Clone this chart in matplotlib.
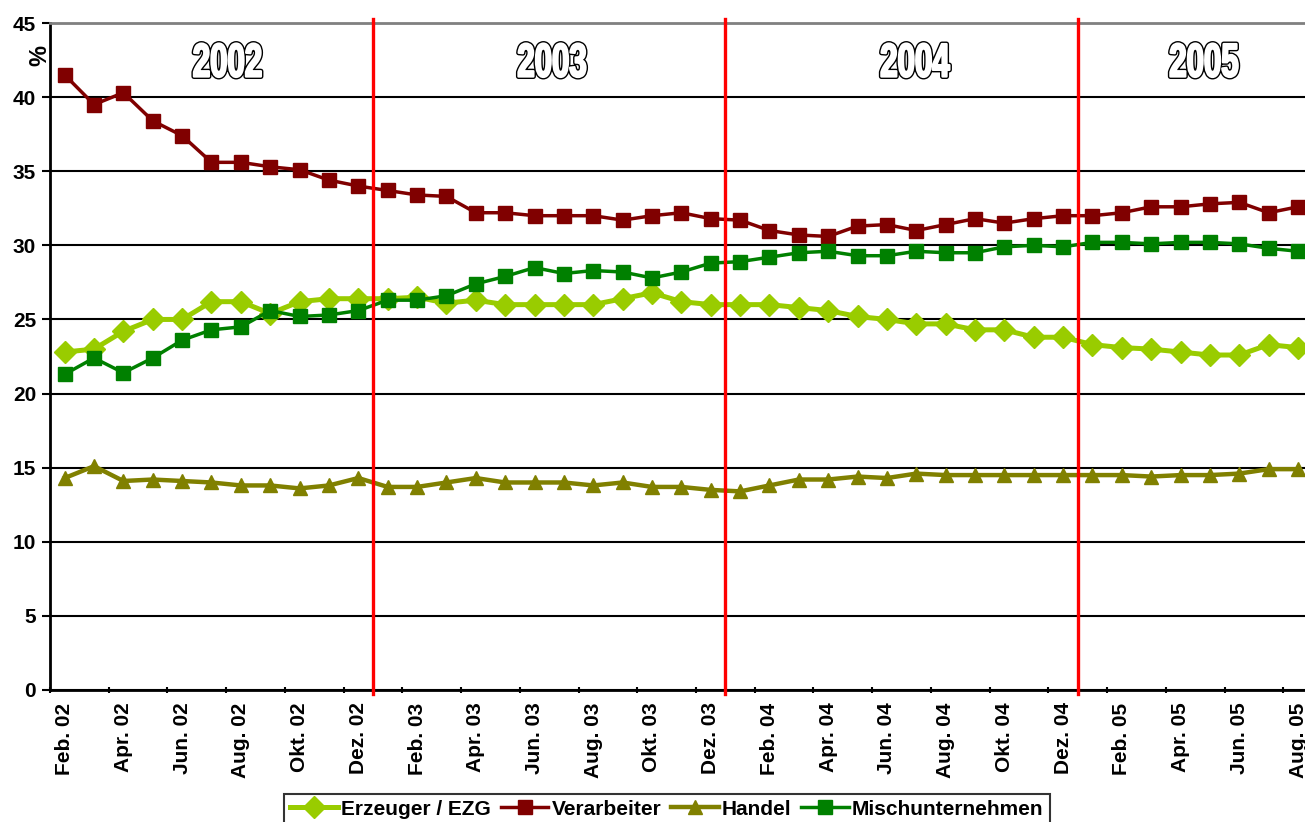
import matplotlib
matplotlib.use("Agg")
import matplotlib.pyplot as plt
import matplotlib.patheffects as pe
from matplotlib.transforms import Affine2D

# --- data (monthly shares in %) ---
month_names = ["Jan.", "Feb.", "Mär.", "Apr.", "Mai.", "Jun.",
               "Jul.", "Aug.", "Sep.", "Okt.", "Nov.", "Dez."]
years = ["02", "03", "04", "05"]
year_titles = ["2002", "2003", "2004", "2005"]

erzeuger = [22.8, 23.0, 24.2, 25.0, 25.0, 26.2, 26.2, 25.4, 26.2, 26.4, 26.4,
            26.4, 26.5, 26.1, 26.3, 26.0, 26.0, 26.0, 26.0, 26.4, 26.8, 26.2, 26.0,
            26.0, 26.0, 25.8, 25.6, 25.2, 25.0, 24.7, 24.7, 24.3, 24.3, 23.8, 23.8,
            23.3, 23.1, 23.0, 22.8, 22.6, 22.6, 23.3, 23.1]
verarbeiter = [41.5, 39.5, 40.3, 38.4, 37.4, 35.6, 35.6, 35.3, 35.1, 34.4, 34.0,
               33.7, 33.4, 33.3, 32.2, 32.2, 32.0, 32.0, 32.0, 31.7, 32.0, 32.2, 31.8,
               31.7, 31.0, 30.7, 30.6, 31.3, 31.4, 31.0, 31.4, 31.8, 31.5, 31.8, 32.0,
               32.0, 32.2, 32.6, 32.6, 32.8, 32.9, 32.2, 32.6]
handel = [14.3, 15.1, 14.1, 14.2, 14.1, 14.0, 13.8, 13.8, 13.6, 13.8, 14.3,
          13.7, 13.7, 14.0, 14.3, 14.0, 14.0, 14.0, 13.8, 14.0, 13.7, 13.7, 13.5,
          13.4, 13.8, 14.2, 14.2, 14.4, 14.3, 14.6, 14.5, 14.5, 14.5, 14.5, 14.5,
          14.5, 14.5, 14.4, 14.5, 14.5, 14.6, 14.9, 14.9]
misch = [21.3, 22.4, 21.4, 22.4, 23.6, 24.3, 24.5, 25.6, 25.2, 25.3, 25.6,
         26.3, 26.3, 26.6, 27.4, 27.9, 28.5, 28.1, 28.3, 28.2, 27.8, 28.2, 28.8,
         28.9, 29.2, 29.5, 29.6, 29.3, 29.3, 29.6, 29.5, 29.5, 29.9, 30.0, 29.9,
         30.2, 30.2, 30.1, 30.2, 30.2, 30.1, 29.8, 29.6]

# month labels Feb. 02 .. Aug. 05
months = [f"{m} {y}" for y in years for m in month_names]
months = months[1:months.index("Aug. 05") + 1]
x = list(range(len(months)))

series = [
    ("Erzeuger / EZG", erzeuger, "#99CC00", "D", 3.6, 11),
    ("Verarbeiter", verarbeiter, "#800000", "s", 2.5, 10),
    ("Handel", handel, "#808000", "^", 3.2, 10),
    ("Mischunternehmen", misch, "#008000", "s", 2.5, 10),
]


class SqueezedOutline(pe.AbstractPathEffect):
    # text path narrowed horizontally, drawn hollow: black halo, white body
    def __init__(self, sx=0.66, outer=3.6, inner=1.6):
        super().__init__()
        self.sx = sx
        self.outer = outer
        self.inner = inner

    def draw_path(self, renderer, gc, tpath, affine, rgbFace=None):
        ext = tpath.get_extents(affine)
        cx = 0.5 * (ext.x0 + ext.x1)
        tr = affine + Affine2D().translate(-cx, 0).scale(self.sx, 1).translate(cx, 0)
        for lw, col in [(self.outer, "black"), (self.inner, "white")]:
            gc0 = renderer.new_gc()
            gc0.copy_properties(gc)
            gc0.set_linewidth(lw)
            gc0.set_foreground(col)
            gc0.set_joinstyle("round")
            renderer.draw_path(gc0, tpath, tr, (1, 1, 1))
            gc0.restore()


plt.rcParams["font.family"] = ["Liberation Sans", "DejaVu Sans"]
plt.rcParams["font.weight"] = "bold"

fig = plt.figure(figsize=(13.05, 8.22), dpi=100)
# plot area runs a few px past the right edge, as in the reference
ax = fig.add_axes([0.0383, 0.1606, 0.9676, 0.8114])

for name, vals, col, mk, lw, ms in series:
    ax.plot(x, vals, color=col, marker=mk, lw=lw, ms=ms, label=name,
            markeredgecolor=col, zorder=3)

# year separators at the Jan. boundaries
for y in years[1:]:
    b = months.index(f"Jan. {y}") - 0.5
    ax.plot([b, b], [-0.3, 45.3], color="#FF0000", lw=2.4, clip_on=False, zorder=4)

# year titles, hollow outlined
year_pos = [5.55, 16.6, 28.95, 38.8]
for t, xp in zip(year_titles, year_pos):
    ax.text(xp, 42.2, t, ha="center", va="center", fontsize=34,
            weight="bold", color="white", path_effects=[SqueezedOutline()])

ax.set_xlim(-0.5, len(months) - 0.5)
ax.set_ylim(0, 45)
ax.set_yticks(range(0, 46, 5))
ax.grid(axis="y", color="black", lw=1.5, zorder=1)
ax.set_axisbelow(True)

ax.set_xticks([i - 0.5 for i in range(0, len(months) + 1, 2)])
ax.set_xticklabels([])
ax.set_xticks(x[::2], minor=True)
ax.set_xticklabels(months[::2], minor=True, rotation=90, fontsize=15, weight="bold")
ax.tick_params(axis="x", which="minor", length=0, pad=9)
ax.tick_params(axis="x", which="major", length=5, width=1.5, direction="inout")
ax.tick_params(axis="y", length=6, width=1.5, pad=4, labelsize=15)
for lab in ax.get_yticklabels():
    lab.set_fontweight("bold")

for s in ["left", "bottom"]:
    ax.spines[s].set_linewidth(2)
    ax.spines[s].set_color("black")
ax.spines["top"].set_color("#808080")
ax.spines["top"].set_linewidth(2)
ax.spines["right"].set_visible(False)

fig.text(0.026, 0.933, "%", rotation=-90, fontsize=17, weight="bold",
         ha="center", va="center")

leg = ax.legend(loc="center", bbox_to_anchor=(0.511, 0.0155), bbox_transform=fig.transFigure,
                ncol=4, frameon=True, fancybox=False,
                handlelength=2.3, handletextpad=0.15, columnspacing=0.45,
                borderpad=0.3, prop={"weight": "bold", "size": 15})
leg.get_frame().set_edgecolor("black")
leg.get_frame().set_linewidth(1.5)

fig.savefig("out.png", dpi=100)
